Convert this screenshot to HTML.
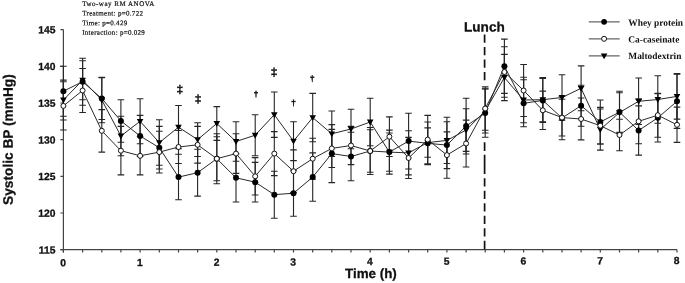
<!DOCTYPE html><html><head><meta charset="utf-8"><title>Systolic BP</title>
<style>html,body{margin:0;padding:0;background:#fff}svg{display:block}text{font-family:"Liberation Sans",sans-serif;fill:#111}.s{font-family:"Liberation Serif",serif}</style></head><body>
<svg width="685" height="283" viewBox="0 0 685 283">
<rect width="685" height="283" fill="#fff"/>
<g stroke="#444" stroke-width="1.2" fill="none">
<path d="M63.4 29.6V252.4M60.4 249.7H677.0"/>
<path d="M60.4 249.7H63.4M60.4 213.0H63.4M60.4 176.3H63.4M60.4 139.6H63.4M60.4 103.0H63.4M60.4 66.3H63.4M60.4 29.6H63.4M63.4 249.7v2.7M82.6 249.7v2.7M101.8 249.7v2.7M120.9 249.7v2.7M140.1 249.7v2.7M159.3 249.7v2.7M178.5 249.7v2.7M197.6 249.7v2.7M216.8 249.7v2.7M236.0 249.7v2.7M255.2 249.7v2.7M274.3 249.7v2.7M293.5 249.7v2.7M312.7 249.7v2.7M331.8 249.7v2.7M351.0 249.7v2.7M370.2 249.7v2.7M389.4 249.7v2.7M408.6 249.7v2.7M427.7 249.7v2.7M446.9 249.7v2.7M466.1 249.7v2.7M485.2 249.7v2.7M504.4 249.7v2.7M523.6 249.7v2.7M542.8 249.7v2.7M562.0 249.7v2.7M581.1 249.7v2.7M600.3 249.7v2.7M619.5 249.7v2.7M638.6 249.7v2.7M657.8 249.7v2.7M677.0 249.7v2.7"/>
</g>
<text transform="translate(55.40 253.45) rotate(0.03)" font-size="10.3" font-weight="bold" text-anchor="end" style="stroke:#111;stroke-width:0.3">115</text>
<text transform="translate(55.40 216.76) rotate(0.03)" font-size="10.3" font-weight="bold" text-anchor="end" style="stroke:#111;stroke-width:0.3">120</text>
<text transform="translate(55.40 180.08) rotate(0.03)" font-size="10.3" font-weight="bold" text-anchor="end" style="stroke:#111;stroke-width:0.3">125</text>
<text transform="translate(55.40 143.39) rotate(0.03)" font-size="10.3" font-weight="bold" text-anchor="end" style="stroke:#111;stroke-width:0.3">130</text>
<text transform="translate(55.40 106.71) rotate(0.03)" font-size="10.3" font-weight="bold" text-anchor="end" style="stroke:#111;stroke-width:0.3">135</text>
<text transform="translate(55.40 70.03) rotate(0.03)" font-size="10.3" font-weight="bold" text-anchor="end" style="stroke:#111;stroke-width:0.3">140</text>
<text transform="translate(55.40 33.34) rotate(0.03)" font-size="10.3" font-weight="bold" text-anchor="end" style="stroke:#111;stroke-width:0.3">145</text>
<text transform="translate(63.10 266.20) rotate(0.03)" font-size="10.3" font-weight="bold" text-anchor="middle" style="stroke:#111;stroke-width:0.3">0</text>
<text transform="translate(139.80 265.93) rotate(0.03)" font-size="10.3" font-weight="bold" text-anchor="middle" style="stroke:#111;stroke-width:0.3">1</text>
<text transform="translate(216.50 265.66) rotate(0.03)" font-size="10.3" font-weight="bold" text-anchor="middle" style="stroke:#111;stroke-width:0.3">2</text>
<text transform="translate(293.20 265.39) rotate(0.03)" font-size="10.3" font-weight="bold" text-anchor="middle" style="stroke:#111;stroke-width:0.3">3</text>
<text transform="translate(369.90 265.12) rotate(0.03)" font-size="10.3" font-weight="bold" text-anchor="middle" style="stroke:#111;stroke-width:0.3">4</text>
<text transform="translate(446.60 264.85) rotate(0.03)" font-size="10.3" font-weight="bold" text-anchor="middle" style="stroke:#111;stroke-width:0.3">5</text>
<text transform="translate(523.30 264.58) rotate(0.03)" font-size="10.3" font-weight="bold" text-anchor="middle" style="stroke:#111;stroke-width:0.3">6</text>
<text transform="translate(600.00 264.31) rotate(0.03)" font-size="10.3" font-weight="bold" text-anchor="middle" style="stroke:#111;stroke-width:0.3">7</text>
<text transform="translate(676.70 264.04) rotate(0.03)" font-size="10.3" font-weight="bold" text-anchor="middle" style="stroke:#111;stroke-width:0.3">8</text>
<text transform="translate(370.90 278.00) rotate(0.03)" font-size="13.4" font-weight="bold" text-anchor="middle" style="stroke:#111;stroke-width:0.3">Time (h)</text>
<text transform="translate(12.70 139.60) rotate(-90.03)" font-size="13.7" font-weight="bold" text-anchor="middle" style="stroke:#111;stroke-width:0.3">Systolic BP (mmHg)</text>
<text transform="translate(484.40 31.60) rotate(0.03)" font-size="13.6" font-weight="bold" text-anchor="middle" style="stroke:#111;stroke-width:0.3">Lunch</text>
<text class="s" transform="translate(82.2 6.0) rotate(0.03)" font-size="7.0" style="fill:#111;stroke:#111;stroke-width:0.2;letter-spacing:0.499px">Two-way RM ANOVA</text>
<text class="s" transform="translate(82.2 15.6) rotate(0.03)" font-size="7.0" style="fill:#111;stroke:#111;stroke-width:0.2;letter-spacing:0.317px">Treatment: p=0.722</text>
<text class="s" transform="translate(82.2 25.2) rotate(0.03)" font-size="7.0" style="fill:#111;stroke:#111;stroke-width:0.2;letter-spacing:0.298px">Time: p=0.429</text>
<text class="s" transform="translate(82.2 34.8) rotate(0.03)" font-size="7.0" style="fill:#111;stroke:#111;stroke-width:0.2;letter-spacing:0.284px">Interaction: p=0.029</text>
<path d="M484.6 34.5V42.75M484.6 47V55.25M484.6 59.5V67.75M484.6 72V80.25M484.6 142.25V151M484.6 154.75V174M484.6 178.25V186.5M484.6 190.75V199M484.6 203.25V211.5M484.6 215.75V224M484.6 228.25V236.5M484.6 240.75V249.2" stroke="#111" stroke-width="1.7" fill="none"/>
<g stroke="#262626" stroke-width="1.1" fill="none">
<path d="M63.4 66.3V116.2M60.1 66.3h6.6M60.1 116.2h6.6M82.6 58.2V105.2M79.3 58.2h6.6M79.3 105.2h6.6M101.8 77.6V119.5M98.5 77.6h6.6M98.5 119.5h6.6M120.9 99.7V142.2M117.6 99.7h6.6M117.6 142.2h6.6M140.1 115.4V156.5M136.8 115.4h6.6M136.8 156.5h6.6M159.3 126.4V169.0M156.0 126.4h6.6M156.0 169.0h6.6M178.5 154.3V199.8M175.2 154.3h6.6M175.2 199.8h6.6M197.6 149.2V196.1M194.3 149.2h6.6M194.3 196.1h6.6M216.8 133.8V183.7M213.5 133.8h6.6M213.5 183.7h6.6M236.0 153.6V202.0M232.7 153.6h6.6M232.7 202.0h6.6M255.2 162.4V202.0M251.8 162.4h6.6M251.8 202.0h6.6M274.3 171.2V218.2M271.0 171.2h6.6M271.0 218.2h6.6M293.5 170.1V216.3M290.2 170.1h6.6M290.2 216.3h6.6M312.7 152.9V201.3M309.4 152.9h6.6M309.4 201.3h6.6M331.8 124.6V182.6M328.5 124.6h6.6M328.5 182.6h6.6M351.0 132.3V180.7M347.7 132.3h6.6M347.7 180.7h6.6M370.2 127.5V174.5M366.9 127.5h6.6M366.9 174.5h6.6M389.4 130.1V174.1M386.1 130.1h6.6M386.1 174.1h6.6M408.6 113.2V169.0M405.2 113.2h6.6M405.2 169.0h6.6M427.7 122.0V164.6M424.4 122.0h6.6M424.4 164.6h6.6M446.9 121.7V168.6M443.6 121.7h6.6M443.6 168.6h6.6M466.1 98.2V154.0M462.8 98.2h6.6M462.8 154.0h6.6M485.2 88.8V137.2M481.9 88.8h6.6M481.9 137.2h6.6M504.4 39.1V93.4M501.1 39.1h6.6M501.1 93.4h6.6M523.6 79.8V126.8M520.3 79.8h6.6M520.3 126.8h6.6M542.8 78.4V122.4M539.5 78.4h6.6M539.5 122.4h6.6M562.0 96.2V139.8M558.7 96.2h6.6M558.7 139.8h6.6M581.1 85.2V126.3M577.8 85.2h6.6M577.8 126.3h6.6M600.3 100.0V144.0M597.0 100.0h6.6M597.0 144.0h6.6M619.5 91.2V133.0M616.2 91.2h6.6M616.2 133.0h6.6M638.6 105.9V155.1M635.4 105.9h6.6M635.4 155.1h6.6M657.8 93.6V142.0M654.5 93.6h6.6M654.5 142.0h6.6M677.0 74.1V128.4M673.7 74.1h6.6M673.7 128.4h6.6"/>
<path d="M63.4 81.8V130.0M60.1 81.8h6.6M60.1 130.0h6.6M82.6 68.5V112.5M79.3 68.5h6.6M79.3 112.5h6.6M101.8 109.6V152.1M98.5 109.6h6.6M98.5 152.1h6.6M120.9 126.4V174.9M117.6 126.4h6.6M117.6 174.9h6.6M140.1 136.7V174.9M136.8 136.7h6.6M136.8 174.9h6.6M159.3 131.2V173.0M156.0 131.2h6.6M156.0 173.0h6.6M178.5 130.5V163.5M175.2 130.5h6.6M175.2 163.5h6.6M197.6 126.4V163.1M194.3 126.4h6.6M194.3 163.1h6.6M216.8 136.7V180.7M213.5 136.7h6.6M213.5 180.7h6.6M236.0 133.8V173.4M232.7 133.8h6.6M232.7 173.4h6.6M255.2 157.6V195.0M251.8 157.6h6.6M251.8 195.0h6.6M274.3 131.6V175.6M271.0 131.6h6.6M271.0 175.6h6.6M293.5 149.9V192.5M290.2 149.9h6.6M290.2 192.5h6.6M312.7 138.2V179.3M309.4 138.2h6.6M309.4 179.3h6.6M331.8 129.4V167.5M328.5 129.4h6.6M328.5 167.5h6.6M351.0 126.4V164.6M347.7 126.4h6.6M347.7 164.6h6.6M370.2 129.7V172.3M366.9 129.7h6.6M366.9 172.3h6.6M389.4 116.9V156.5M386.1 116.9h6.6M386.1 156.5h6.6M408.6 137.4V178.5M405.2 137.4h6.6M405.2 178.5h6.6M427.7 115.4V163.9M424.4 115.4h6.6M424.4 163.9h6.6M446.9 131.9V178.2M443.6 131.9h6.6M443.6 178.2h6.6M466.1 120.1V167.0M462.8 120.1h6.6M462.8 167.0h6.6M485.2 86.9V130.2M481.9 86.9h6.6M481.9 130.2h6.6M504.4 46.7V97.3M501.1 46.7h6.6M501.1 97.3h6.6M523.6 64.5V116.5M520.3 64.5h6.6M520.3 116.5h6.6M542.8 91.1V129.5M539.5 91.1h6.6M539.5 129.5h6.6M562.0 99.3V136.0M558.7 99.3h6.6M558.7 136.0h6.6M581.1 98.0V139.9M577.8 98.0h6.6M577.8 139.9h6.6M600.3 107.4V144.0M597.0 107.4h6.6M597.0 144.0h6.6M619.5 119.2V150.8M616.2 119.2h6.6M616.2 150.8h6.6M638.6 98.9V143.8M635.4 98.9h6.6M635.4 143.8h6.6M657.8 93.2V137.2M654.5 93.2h6.6M654.5 137.2h6.6M677.0 107.1V142.4M673.7 107.1h6.6M673.7 142.4h6.6"/>
<path d="M63.4 80.1V120.0M60.1 80.1h6.6M60.1 120.0h6.6M82.6 60.8V99.7M79.3 60.8h6.6M79.3 99.7h6.6M101.8 77.3V122.8M98.5 77.3h6.6M98.5 122.8h6.6M120.9 116.2V155.8M117.6 116.2h6.6M117.6 155.8h6.6M140.1 98.8V143.8M136.8 98.8h6.6M136.8 143.8h6.6M159.3 119.8V165.3M156.0 119.8h6.6M156.0 165.3h6.6M178.5 105.5V148.8M175.2 105.5h6.6M175.2 148.8h6.6M197.6 122.8V156.5M194.3 122.8h6.6M194.3 156.5h6.6M216.8 106.6V140.4M213.5 106.6h6.6M213.5 140.4h6.6M236.0 121.7V161.3M232.7 121.7h6.6M232.7 161.3h6.6M255.2 114.7V155.8M251.8 114.7h6.6M251.8 155.8h6.6M274.3 92.0V137.4M271.0 92.0h6.6M271.0 137.4h6.6M293.5 121.7V160.6M290.2 121.7h6.6M290.2 160.6h6.6M312.7 93.4V141.8M309.4 93.4h6.6M309.4 141.8h6.6M331.8 111.0V156.5M328.5 111.0h6.6M328.5 156.5h6.6M351.0 109.2V148.8M347.7 109.2h6.6M347.7 148.8h6.6M370.2 98.3V145.8M366.9 98.3h6.6M366.9 145.8h6.6M389.4 133.0V171.2M386.1 133.0h6.6M386.1 171.2h6.6M408.6 130.8V174.9M405.2 130.8h6.6M405.2 174.9h6.6M427.7 127.9V157.3M424.4 127.9h6.6M424.4 157.3h6.6M446.9 117.3V163.5M443.6 117.3h6.6M443.6 163.5h6.6M466.1 108.8V151.4M462.8 108.8h6.6M462.8 151.4h6.6M485.2 89.0V133.0M481.9 89.0h6.6M481.9 133.0h6.6M504.4 54.4V100.6M501.1 54.4h6.6M501.1 100.6h6.6M523.6 77.3V122.8M520.3 77.3h6.6M520.3 122.8h6.6M542.8 77.6V121.7M539.5 77.6h6.6M539.5 121.7h6.6M562.0 74.7V120.2M558.7 74.7h6.6M558.7 120.2h6.6M581.1 65.9V110.7M577.8 65.9h6.6M577.8 110.7h6.6M600.3 109.0V150.1M597.0 109.0h6.6M597.0 150.1h6.6M619.5 92.7V132.3M616.2 92.7h6.6M616.2 132.3h6.6M638.6 78.0V124.5M635.4 78.0h6.6M635.4 124.5h6.6M657.8 75.8V123.2M654.5 75.8h6.6M654.5 123.2h6.6M677.0 73.6V119.1M673.7 73.6h6.6M673.7 119.1h6.6"/>
</g>
<g stroke="#2a2a2a" stroke-width="1" fill="none">
<polyline points="63.4,91.2 82.6,81.7 101.8,98.6 120.9,120.9 140.1,136.0 159.3,147.7 178.5,177.1 197.6,172.7 216.8,158.7 236.0,177.8 255.2,182.2 274.3,194.7 293.5,193.2 312.7,177.1 331.8,153.6 351.0,156.5 370.2,151.0 389.4,152.1 408.6,141.1 427.7,143.3 446.9,145.1 466.1,126.1 485.2,113.0 504.4,66.3 523.6,103.3 542.8,100.4 562.0,118.0 581.1,105.7 600.3,122.0 619.5,112.1 638.6,130.5 657.8,117.8 677.0,101.3"/>
<polyline points="63.4,105.9 82.6,90.5 101.8,130.8 120.9,150.7 140.1,155.8 159.3,152.1 178.5,147.0 197.6,144.8 216.8,158.7 236.0,153.6 255.2,176.3 274.3,153.6 293.5,171.2 312.7,158.7 331.8,148.4 351.0,145.5 370.2,151.0 389.4,136.7 408.6,158.0 427.7,139.6 446.9,155.1 466.1,143.5 485.2,108.5 504.4,72.0 523.6,90.5 542.8,110.3 562.0,117.6 581.1,119.0 600.3,125.7 619.5,135.0 638.6,121.3 657.8,115.2 677.0,124.8"/>
<polyline points="63.4,100.0 82.6,80.2 101.8,100.0 120.9,136.0 140.1,121.3 159.3,142.6 178.5,127.2 197.6,139.6 216.8,123.5 236.0,141.5 255.2,135.2 274.3,114.7 293.5,141.1 312.7,117.6 331.8,133.8 351.0,129.0 370.2,122.0 389.4,152.1 408.6,152.9 427.7,142.6 446.9,140.4 466.1,130.1 485.2,111.0 504.4,77.5 523.6,100.0 542.8,99.7 562.0,97.5 581.1,88.3 600.3,129.5 619.5,112.5 638.6,101.3 657.8,99.5 677.0,96.4"/>
</g>
<g fill="#000" stroke="none">
<path d="M60.1 97.6h6.6L63.4 103.5zM79.3 77.8h6.6L82.6 83.7zM98.5 97.6h6.6L101.8 103.5zM117.6 133.6h6.6L120.9 139.5zM136.8 118.9h6.6L140.1 124.8zM156.0 140.2h6.6L159.3 146.1zM175.2 124.8h6.6L178.5 130.7zM194.3 137.2h6.6L197.6 143.1zM213.5 121.1h6.6L216.8 127.0zM232.7 139.1h6.6L236.0 145.0zM251.8 132.8h6.6L255.2 138.7zM271.0 112.3h6.6L274.3 118.2zM290.2 138.7h6.6L293.5 144.6zM309.4 115.2h6.6L312.7 121.1zM328.5 131.4h6.6L331.8 137.3zM347.7 126.6h6.6L351.0 132.5zM366.9 119.6h6.6L370.2 125.5zM386.1 149.7h6.6L389.4 155.6zM405.2 150.5h6.6L408.6 156.4zM424.4 140.2h6.6L427.7 146.1zM443.6 138.0h6.6L446.9 143.9zM462.8 127.7h6.6L466.1 133.6zM481.9 108.6h6.6L485.2 114.5zM501.1 75.1h6.6L504.4 81.0zM520.3 97.6h6.6L523.6 103.5zM539.5 97.3h6.6L542.8 103.2zM558.7 95.1h6.6L562.0 101.0zM577.8 85.9h6.6L581.1 91.8zM597.0 127.1h6.6L600.3 133.0zM616.2 110.1h6.6L619.5 116.0zM635.4 98.9h6.6L638.6 104.8zM654.5 97.1h6.6L657.8 103.0zM673.7 94.0h6.6L677.0 99.9z"/>
<circle cx="63.4" cy="91.2" r="3"/>
<circle cx="82.6" cy="81.7" r="3"/>
<circle cx="101.8" cy="98.6" r="3"/>
<circle cx="120.9" cy="120.9" r="3"/>
<circle cx="140.1" cy="136.0" r="3"/>
<circle cx="159.3" cy="147.7" r="3"/>
<circle cx="178.5" cy="177.1" r="3"/>
<circle cx="197.6" cy="172.7" r="3"/>
<circle cx="216.8" cy="158.7" r="3"/>
<circle cx="236.0" cy="177.8" r="3"/>
<circle cx="255.2" cy="182.2" r="3"/>
<circle cx="274.3" cy="194.7" r="3"/>
<circle cx="293.5" cy="193.2" r="3"/>
<circle cx="312.7" cy="177.1" r="3"/>
<circle cx="331.8" cy="153.6" r="3"/>
<circle cx="351.0" cy="156.5" r="3"/>
<circle cx="370.2" cy="151.0" r="3"/>
<circle cx="389.4" cy="152.1" r="3"/>
<circle cx="408.6" cy="141.1" r="3"/>
<circle cx="427.7" cy="143.3" r="3"/>
<circle cx="446.9" cy="145.1" r="3"/>
<circle cx="466.1" cy="126.1" r="3"/>
<circle cx="485.2" cy="113.0" r="3"/>
<circle cx="504.4" cy="66.3" r="3"/>
<circle cx="523.6" cy="103.3" r="3"/>
<circle cx="542.8" cy="100.4" r="3"/>
<circle cx="562.0" cy="118.0" r="3"/>
<circle cx="581.1" cy="105.7" r="3"/>
<circle cx="600.3" cy="122.0" r="3"/>
<circle cx="619.5" cy="112.1" r="3"/>
<circle cx="638.6" cy="130.5" r="3"/>
<circle cx="657.8" cy="117.8" r="3"/>
<circle cx="677.0" cy="101.3" r="3"/>
</g>
<g fill="#fff" stroke="#111" stroke-width="1">
<circle cx="63.4" cy="105.9" r="2.5"/>
<circle cx="82.6" cy="90.5" r="2.5"/>
<circle cx="101.8" cy="130.8" r="2.5"/>
<circle cx="120.9" cy="150.7" r="2.5"/>
<circle cx="140.1" cy="155.8" r="2.5"/>
<circle cx="159.3" cy="152.1" r="2.5"/>
<circle cx="178.5" cy="147.0" r="2.5"/>
<circle cx="197.6" cy="144.8" r="2.5"/>
<circle cx="216.8" cy="158.7" r="2.5"/>
<circle cx="236.0" cy="153.6" r="2.5"/>
<circle cx="255.2" cy="176.3" r="2.5"/>
<circle cx="274.3" cy="153.6" r="2.5"/>
<circle cx="293.5" cy="171.2" r="2.5"/>
<circle cx="312.7" cy="158.7" r="2.5"/>
<circle cx="331.8" cy="148.4" r="2.5"/>
<circle cx="351.0" cy="145.5" r="2.5"/>
<circle cx="370.2" cy="151.0" r="2.5"/>
<circle cx="389.4" cy="136.7" r="2.5"/>
<circle cx="408.6" cy="158.0" r="2.5"/>
<circle cx="427.7" cy="139.6" r="2.5"/>
<circle cx="446.9" cy="155.1" r="2.5"/>
<circle cx="466.1" cy="143.5" r="2.5"/>
<circle cx="485.2" cy="108.5" r="2.5"/>
<circle cx="504.4" cy="72.0" r="2.5"/>
<circle cx="523.6" cy="90.5" r="2.5"/>
<circle cx="542.8" cy="110.3" r="2.5"/>
<circle cx="562.0" cy="117.6" r="2.5"/>
<circle cx="581.1" cy="119.0" r="2.5"/>
<circle cx="600.3" cy="125.7" r="2.5"/>
<circle cx="619.5" cy="135.0" r="2.5"/>
<circle cx="638.6" cy="121.3" r="2.5"/>
<circle cx="657.8" cy="115.2" r="2.5"/>
<circle cx="677.0" cy="124.8" r="2.5"/>
</g>
<g stroke="#666" stroke-width="1.3"><path d="M588.8 21.8H619.7M588.8 38.8H619.7M588.8 55.8H619.7"/></g>
<circle cx="604.1" cy="21.8" r="2.9" fill="#000"/>
<circle cx="604.1" cy="38.8" r="2.5" fill="#fff" stroke="#111"/>
<path d="M600.8 53.4h6.6L604.1 59.3z" fill="#000"/>
<text class="s" transform="translate(628.3 25.8) rotate(0.03)" font-size="9.4" font-weight="bold">Whey protein</text>
<text class="s" transform="translate(628.3 42.4) rotate(0.03)" font-size="9.4" font-weight="bold">Ca-caseinate</text>
<text class="s" transform="translate(628.3 58.9) rotate(0.03)" font-size="9.4" font-weight="bold">Maltodextrin</text>
<text class="s" transform="translate(179.80 92.64) rotate(0.03)" font-size="11.3" font-weight="bold" text-anchor="middle" style="stroke:#111;stroke-width:0.4">‡</text>
<text class="s" transform="translate(198.20 102.34) rotate(0.03)" font-size="11.3" font-weight="bold" text-anchor="middle" style="stroke:#111;stroke-width:0.4">‡</text>
<text class="s" transform="translate(256.00 96.54) rotate(0.03)" font-size="8.0" font-weight="bold" text-anchor="middle" style="stroke:#111;stroke-width:0.4">†</text>
<text class="s" transform="translate(274.00 75.39) rotate(0.03)" font-size="11.3" font-weight="bold" text-anchor="middle" style="stroke:#111;stroke-width:0.4">‡</text>
<text class="s" transform="translate(293.50 105.29) rotate(0.03)" font-size="8.0" font-weight="bold" text-anchor="middle" style="stroke:#111;stroke-width:0.4">†</text>
<text class="s" transform="translate(312.25 81.04) rotate(0.03)" font-size="8.0" font-weight="bold" text-anchor="middle" style="stroke:#111;stroke-width:0.4">†</text>
</svg></body></html>
